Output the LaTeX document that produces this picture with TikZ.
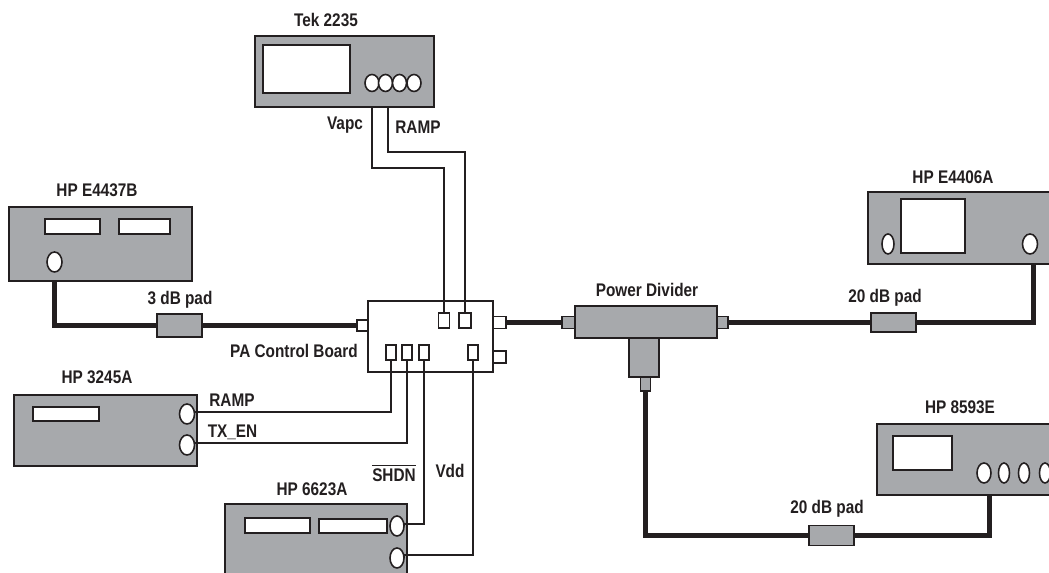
\documentclass[tikz,border=0pt]{standalone}
\usepackage{fontspec}
\setmainfont{Liberation Sans}[FakeStretch=0.84]
\usetikzlibrary{shapes.geometric}

\definecolor{casegray}{HTML}{A7A9AC}
\definecolor{inkdark}{HTML}{231F20}

\begin{document}
\begin{tikzpicture}[
    x=0.02cm, y=-0.02cm,
    sized/.style 2 args={minimum width=#1*0.02cm, minimum height=#2*0.02cm},
    base/.style={draw=inkdark, line width=0.9pt, inner sep=0pt, outer sep=0pt},
    case/.style={base, rectangle, fill=casegray},
    panel/.style={base, rectangle, fill=white},
    knob/.style={base, ellipse, fill=white},
    port/.style={base, rectangle, fill=white},
    plug/.style={base, rectangle, fill=casegray},
    title/.style={font=\fontsize{10.4pt}{12pt}\selectfont\bfseries, text=inkdark, inner sep=0pt},
    wire/.style={draw=inkdark, line width=0.9pt},
    coax/.style={draw=inkdark, line width=2.7pt}
]
\clip (0,0) rectangle (1049,573);

% Tek 2235
\node[case, sized={179}{71}] (tek) at (344.5,71.5) {};
\node[panel, sized={87}{48}] (tekscreen) at (306.5,69) {};
\node[knob, sized={14}{17}] (tekknobA) at (372,83) {};
\node[knob, sized={14}{17}] (tekknobB) at (385.5,83) {};
\node[knob, sized={14}{17}] (tekknobC) at (399.5,83) {};
\node[knob, sized={14}{17}] (tekknobD) at (414,83) {};
\coordinate (tekramp) at (388,107);
\node[title] (tekname) at (326,20) {Tek 2235};
\node[title] (vapcname) at (345,125) {Vapc};
\node[title] (rampname) at (418,127) {RAMP};

% HP E4437B
\node[case, sized={183}{74}] (esg) at (100.5,244) {};
\node[panel, sized={55}{15}] (esgslotA) at (72.5,226.5) {};
\node[panel, sized={51}{15}] (esgslotB) at (144.5,226.5) {};
\node[knob, sized={15}{20}] (esgknob) at (54.5,262) {};
\node[title] (esgname) at (97,190) {HP E4437B};
\node[plug, sized={45}{23}] (padthree) at (179.5,325.5) {};
\node[title] (padthreename) at (180,300) {3 dB pad};

% HP 3245A
\node[case, sized={183}{71}] (awg) at (105.5,430.5) {};
\node[panel, sized={66}{14}] (awgslot) at (66,414) {};
\node[knob, sized={15}{20}] (awgknobA) at (187,414) {};
\node[knob, sized={15}{20}] (awgknobB) at (187,445) {};
\node[title] (awgname) at (97,377) {HP 3245A};
\node[title] (awgramp) at (232,400) {RAMP};
\node[title] (awgtx) at (232.5,432) {TX\_EN};

% HP 6623A
\node[case, sized={182}{90}] (supply) at (316,549) {};
\node[panel, sized={65}{15}] (supplyslotA) at (277.5,525.5) {};
\node[panel, sized={68}{14}] (supplyslotB) at (353,526) {};
\node[knob, sized={14}{20}] (supplyknobA) at (397,526) {};
\node[knob, sized={14}{20}] (supplyknobB) at (397,558) {};
\node[title] (supplyname) at (312,489) {HP 6623A};
\node[title] (shdnname) at (394,473) {$\overline{\mbox{SHDN}}$};
\node[title] (vddname) at (450,471) {Vdd};

% PA Control Board
\node[panel, sized={125}{71}] (board) at (430.5,336.5) {};
\node[port, sized={11}{11}] (boardin) at (362.5,325.5) {};
\node[port, sized={11}{15}] (portvapc) at (444,320.5) {};
\node[port, sized={12}{15}] (portramp) at (465,320.5) {};
\node[port, sized={10}{15}] (portA) at (391,352.5) {};
\node[port, sized={10}{15}] (portB) at (407,352.5) {};
\node[port, sized={10}{15}] (portC) at (424,352.5) {};
\node[port, sized={10}{15}] (portD) at (473,352.5) {};
\node[port, sized={13}{12}] (boardout) at (499.5,322.5) {};
\node[port, sized={13}{12}] (boardspare) at (499.5,357) {};
\node[title] (boardname) at (294,351) {PA Control Board};

% Power Divider
\node[case, sized={142}{32}] (divider) at (646,322) {};
\node[case, sized={30}{39}] (dividerstem) at (644,357.5) {};
\node[plug, sized={13}{12}] (dividerin) at (568.5,322.5) {};
\node[plug, sized={11}{12}] (dividerout) at (722.5,322.5) {};
\node[plug, sized={10}{14}] (dividerdown) at (645.5,384) {};
\node[title] (dividername) at (647,290) {Power Divider};

% HP E4406A
\node[case, sized={192}{72}] (vsa) at (964,228) {};
\node[panel, sized={64}{54}] (vsascreen) at (933,226) {};
\node[knob, sized={12}{20}] (vsaknobA) at (888,244) {};
\node[knob, sized={15}{20}] (vsaknobB) at (1030,244) {};
\node[title] (vsaname) at (953,177) {HP E4406A};
\node[plug, sized={45}{19}] (padupper) at (893.5,322.5) {};
\node[title] (paduppername) at (885,298) {20 dB pad};
\coordinate (vsaout) at (1033.5,264);

% HP 8593E
\node[case, sized={183}{71}] (sa) at (968.5,459.5) {};
\node[panel, sized={59}{34}] (sascreen) at (922.5,453) {};
\node[knob, sized={14}{20}] (saknobA) at (984,473) {};
\node[knob, sized={11}{20}] (saknobB) at (1004,473) {};
\node[knob, sized={11}{20}] (saknobC) at (1024,473) {};
\node[knob, sized={11}{20}] (saknobD) at (1045,473) {};
\coordinate (saout) at (989.5,495);
\node[plug, sized={45}{20}] (padlower) at (831.5,535.5) {};
\node[title] (padlowername) at (827,509) {20 dB pad};
\node[title] (saname) at (960,407) {HP 8593E};

% thin lines
\draw[wire] (tekknobA |- tek.south) -- ++(0,61) -| (portvapc.north);
\draw[wire] (tekramp) -- ++(0,45) -| (portramp.north);
\draw[wire] (awgknobA.east) -- ++(0,-2) -| (portA.south);
\draw[wire] (awgknobB.east) -- ++(0,-2) -| (portB.south);
\draw[wire] (supplyknobA.east) -- ++(0,-2) -| (portC.south);
\draw[wire] (supplyknobB.east) -- ++(0,-3) -| (portD.south);

% thick lines
\draw[coax] (esgknob |- esg.south) |- (padthree.west);
\draw[coax] (padthree.east) -- (boardin.west);
\draw[coax] (boardout.east) -- (dividerin.west);
\draw[coax] (dividerout.east) -- (padupper.west);
\draw[coax] (padupper.east) -| (vsaout);
\draw[coax] (dividerdown.south) |- (padlower.west);
\draw[coax] (padlower.east) -| (saout);
\end{tikzpicture}
\end{document}
